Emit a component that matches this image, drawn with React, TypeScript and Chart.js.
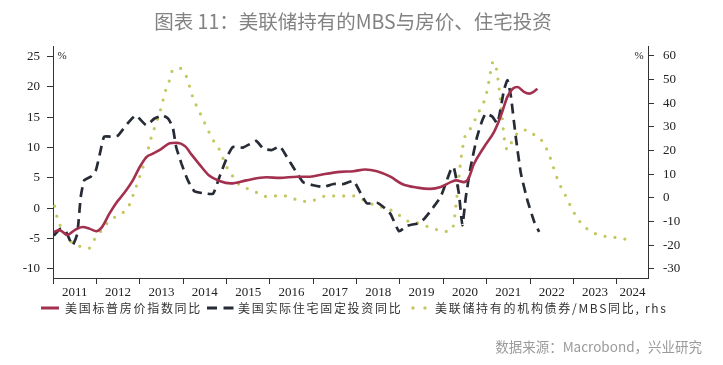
import React, { useEffect, useRef } from 'react';
import { Chart, registerables } from 'chart.js';

Chart.register(...registerables);

// ---------- data ----------
const titleText = '图表 11：美联储持有的MBS与房价、住宅投资';
const sourceText = '数据来源：Macrobond，兴业研究';
const legendLabels = ['美国标普房价指数同比', '美国实际住宅固定投资同比', '美联储持有的机构债券/MBS同比, rhs'];

const years = [2011, 2012, 2013, 2014, 2015, 2016, 2017, 2018, 2019, 2020, 2021, 2022, 2023, 2024];
const xMin = 2011;
const xMax = 2024.72;

const leftTicks = [-10, -5, 0, 5, 10, 15, 20, 25];
const rightTicks = [-30, -20, -10, 0, 10, 20, 30, 40, 50, 60];

// S&P home price index YoY (%), left axis
const hpiX = [2011.02, 2011.15, 2011.33, 2011.5, 2011.68, 2011.85, 2012.0, 2012.12, 2012.3, 2012.45, 2012.64, 2012.84, 2013.0, 2013.15, 2013.3, 2013.5, 2013.69, 2013.84, 2014.05, 2014.2, 2014.38, 2014.6, 2014.84, 2015.1, 2015.46, 2015.92, 2016.23, 2016.62, 2016.93, 2017.23, 2017.62, 2017.93, 2018.2, 2018.47, 2018.78, 2019.05, 2019.4, 2019.7, 2019.94, 2020.17, 2020.3, 2020.47, 2020.58, 2020.7, 2020.94, 2021.17, 2021.32, 2021.48, 2021.6, 2021.71, 2021.86, 2021.98, 2022.08, 2022.17];
const hpiY = [-3.9, -3.6, -4.4, -3.6, -3.1, -3.4, -3.8, -3.2, -0.9, 0.8, 2.5, 4.6, 6.8, 8.4, 9.0, 9.8, 10.7, 10.8, 10.2, 8.8, 7.2, 5.4, 4.5, 4.1, 4.6, 5.1, 5.0, 5.2, 5.2, 5.6, 6.0, 6.1, 6.4, 6.1, 5.2, 4.0, 3.4, 3.2, 3.5, 4.3, 4.6, 4.3, 4.9, 7.2, 10.1, 12.6, 15.1, 18.4, 19.7, 20.0, 19.2, 18.9, 19.2, 19.7];

// Real residential fixed investment YoY (%), left axis
const resX = [2011.02, 2011.17, 2011.3, 2011.45, 2011.56, 2011.64, 2011.72, 2011.87, 2011.99, 2012.1, 2012.18, 2012.37, 2012.5, 2012.72, 2012.91, 2013.15, 2013.34, 2013.53, 2013.65, 2013.76, 2013.84, 2013.96, 2014.11, 2014.26, 2014.45, 2014.69, 2014.84, 2015.03, 2015.15, 2015.38, 2015.57, 2015.69, 2015.85, 2016.05, 2016.23, 2016.39, 2016.58, 2016.77, 2017.0, 2017.23, 2017.47, 2017.7, 2017.93, 2018.12, 2018.24, 2018.47, 2018.62, 2018.78, 2018.98, 2019.16, 2019.4, 2019.55, 2019.7, 2019.94, 2020.17, 2020.24, 2020.36, 2020.44, 2020.52, 2020.63, 2020.78, 2020.9, 2020.98, 2021.13, 2021.25, 2021.4, 2021.48, 2021.56, 2021.67, 2021.79, 2021.94, 2022.1, 2022.21];
const resY = [-4.5, -3.4, -3.9, -6.1, -4.2, 1.9, 4.6, 5.2, 6.3, 9.6, 11.8, 11.8, 12.0, 14.0, 15.3, 13.7, 14.8, 15.3, 14.8, 13.4, 10.1, 7.4, 4.6, 2.8, 2.5, 2.4, 5.2, 8.7, 10.1, 10.0, 10.7, 11.1, 9.8, 9.6, 10.2, 8.5, 6.3, 4.3, 3.8, 3.5, 4.0, 4.0, 4.5, 2.1, 0.8, 0.9, 0.2, -0.9, -3.8, -2.9, -2.5, -1.8, -0.5, 1.9, 6.3, 6.8, 2.4, -2.8, 1.9, 6.8, 11.8, 14.5, 15.6, 15.1, 14.0, 19.5, 21.1, 18.4, 11.8, 5.7, 1.3, -2.3, -3.9];

// Fed holdings of agency debt / MBS YoY (%), right axis
const mbsX = [2011.04, 2011.1, 2011.22, 2011.33, 2011.49, 2011.65, 2011.83, 2011.95, 2012.1, 2012.25, 2012.45, 2012.6, 2012.76, 2012.85, 2013.0, 2013.15, 2013.26, 2013.38, 2013.49, 2013.6, 2013.69, 2013.76, 2013.92, 2014.07, 2014.15, 2014.22, 2014.3, 2014.41, 2014.5, 2014.61, 2014.69, 2014.84, 2015.0, 2015.15, 2015.3, 2015.46, 2015.69, 2015.88, 2016.1, 2016.35, 2016.58, 2016.77, 2017.0, 2017.23, 2017.47, 2017.7, 2017.93, 2018.12, 2018.31, 2018.54, 2018.78, 2018.97, 2019.2, 2019.43, 2019.63, 2019.86, 2020.09, 2020.24, 2020.28, 2020.33, 2020.38, 2020.42, 2020.51, 2020.63, 2020.75, 2020.86, 2020.98, 2021.05, 2021.15, 2021.23, 2021.29, 2021.35, 2021.4, 2021.48, 2021.6, 2021.75, 2021.94, 2022.1, 2022.29, 2022.44, 2022.52, 2022.67, 2022.79, 2022.98, 2023.09, 2023.25, 2023.44, 2023.68, 2023.91, 2024.14, 2024.37];
const mbsY = [-3.5, -8.6, -13.5, -16.3, -19.9, -20.6, -21.3, -17.7, -14.2, -10.7, -7.9, -6.5, -3.0, 1.3, 9.0, 17.4, 25.2, 31.6, 37.9, 45.6, 49.9, 54.1, 54.8, 51.5, 47.0, 42.8, 39.3, 35.1, 31.6, 27.3, 24.5, 20.3, 13.2, 9.0, 5.5, 4.1, 2.3, 0.6, 0.8, 0.8, -0.6, -1.5, -1.1, 0.6, 0.8, 0.8, 0.8, -0.6, -2.3, -3.7, -5.1, -7.2, -10.0, -10.7, -12.1, -13.5, -14.2, -11.4, -5.0, 3.0, 12.0, 18.2, 26.6, 29.4, 33.7, 37.9, 42.8, 49.1, 57.6, 54.1, 45.6, 35.8, 25.9, 20.3, 24.5, 28.0, 28.7, 26.6, 23.8, 18.2, 13.9, 6.2, 2.0, -5.1, -8.6, -12.1, -14.6, -16.1, -16.6, -17.3, -18.0];

// ---------- styles ----------
const RED = '#a3304f';
const DARK = '#262b36';
const DOT = '#c4c65f';
const AXIS = '#333333';
const SERIF = '"Liberation Serif", "Times New Roman", serif';
const CJK = '"Noto Sans CJK SC", "Noto Sans", sans-serif';

const toPts = (xs: number[], ys: number[]) => xs.map((x, i) => ({ x, y: ys[i] }));

const decorPlugin = {
  id: 'decor',
  afterDraw(chart: any) {
    const ctx = chart.ctx as CanvasRenderingContext2D;
    const ca = chart.chartArea;
    ctx.save();
    // title
    ctx.fillStyle = '#828282';
    ctx.font = `19.5px ${CJK}`;
    ctx.textAlign = 'center';
    ctx.textBaseline = 'middle';
    ctx.fillText(titleText, 353, 22);

    // % unit labels
    ctx.fillStyle = '#222';
    ctx.font = `11px ${SERIF}`;
    ctx.textAlign = 'center';
    ctx.fillText('%', ca.left + 9, 56);
    ctx.fillText('%', ca.right - 9, 56);

    // legend
    const ly = 308;
    ctx.font = `12px ${CJK}`;
    (ctx as any).letterSpacing = '1.7px';
    ctx.textAlign = 'left';
    ctx.fillStyle = '#333';
    // item 1: solid red
    ctx.strokeStyle = RED;
    ctx.lineWidth = 3;
    ctx.beginPath();
    ctx.moveTo(41, ly);
    ctx.lineTo(59, ly);
    ctx.stroke();
    ctx.fillText(legendLabels[0], 65, ly);
    // item 2: dashed dark
    ctx.strokeStyle = DARK;
    ctx.lineWidth = 3;
    ctx.setLineDash([10, 6.5]);
    ctx.beginPath();
    ctx.moveTo(207, ly);
    ctx.lineTo(234, ly);
    ctx.stroke();
    ctx.setLineDash([]);
    ctx.fillText(legendLabels[1], 238, ly);
    // item 3: dotted
    ctx.fillStyle = DOT;
    [413, 425].forEach((x) => {
      ctx.beginPath();
      ctx.arc(x, ly, 1.7, 0, Math.PI * 2);
      ctx.fill();
    });
    ctx.fillStyle = '#333';
    ctx.fillText(legendLabels[2], 435, ly);
    (ctx as any).letterSpacing = '0px';

    // source
    ctx.fillStyle = '#9a9a9a';
    ctx.font = `13.5px ${CJK}`;
    ctx.textAlign = 'right';
    ctx.fillText(sourceText, 702, 347);
    ctx.restore();
  },
};

export default function App() {
  const ref = useRef<HTMLCanvasElement | null>(null);

  useEffect(() => {
    if (!ref.current) return;
    const chart = new Chart(ref.current, {
      type: 'line',
      data: {
        datasets: [
          {
            label: legendLabels[0],
            data: toPts(hpiX, hpiY),
            yAxisID: 'y',
            xAxisID: 'x',
            borderColor: RED,
            borderWidth: 2.6,
            pointRadius: 0,
            cubicInterpolationMode: 'monotone',
            fill: false,
          },
          {
            label: legendLabels[1],
            data: toPts(resX, resY),
            yAxisID: 'y',
            xAxisID: 'x',
            borderColor: DARK,
            borderWidth: 2.7,
            borderDash: [10, 6],
            pointRadius: 0,
            tension: 0.15,
            fill: false,
          },
          {
            label: legendLabels[2],
            data: toPts(mbsX, mbsY),
            yAxisID: 'y2',
            xAxisID: 'x',
            borderColor: DOT,
            borderWidth: 3.2,
            borderDash: [0, 10],
            borderCapStyle: 'round',
            pointRadius: 0,
            cubicInterpolationMode: 'monotone',
            fill: false,
          },
        ],
      },
      options: {
        responsive: false,
        animation: false,
        layout: { padding: { top: 46, left: 0, right: 0, bottom: 0 } },
        plugins: { legend: { display: false }, tooltip: { enabled: false }, title: { display: false } },
        scales: {
          x: {
            type: 'linear',
            position: 'bottom',
            weight: 0,
            min: xMin,
            max: xMax,
            afterBuildTicks: (s: any) => {
              s.ticks = years.map((v) => ({ value: v }));
            },
            afterFit: (s: any) => {
              s.height = 6;
            },
            ticks: { display: false },
            grid: { drawOnChartArea: false, drawTicks: true, tickLength: 6, color: AXIS, lineWidth: 1 },
            border: { display: true, color: AXIS, width: 1 },
          },
          x2: {
            type: 'linear',
            position: 'bottom',
            weight: 1,
            min: xMin,
            max: xMax,
            afterBuildTicks: (s: any) => {
              s.ticks = years.map((v) => ({ value: Math.min(v + 0.5, (v + xMax) / 2) }));
            },
            afterFit: (s: any) => {
              s.height = 81;
            },
            ticks: {
              autoSkip: false,
              maxRotation: 0,
              padding: 1,
              color: '#222',
              font: { family: SERIF, size: 13 },
              callback: (v: any) => String(Math.floor(Number(v))),
            },
            grid: { display: false, drawTicks: false },
            border: { display: false },
          },
          y: {
            type: 'linear',
            position: 'left',
            min: -11.5,
            max: 26.75,
            afterBuildTicks: (s: any) => {
              s.ticks = leftTicks.map((v) => ({ value: v }));
            },
            afterFit: (s: any) => {
              s.width = 53;
            },
            ticks: { color: '#222', font: { family: SERIF, size: 13 }, padding: 7 },
            grid: { drawOnChartArea: false, drawTicks: true, tickLength: 6, color: AXIS },
            border: { display: true, color: AXIS, width: 1 },
          },
          y2: {
            type: 'linear',
            position: 'right',
            min: -33.9,
            max: 64.2,
            afterBuildTicks: (s: any) => {
              s.ticks = rightTicks.map((v) => ({ value: v }));
            },
            afterFit: (s: any) => {
              s.width = 75;
            },
            ticks: { color: '#222', font: { family: SERIF, size: 13 }, padding: 9, crossAlign: 'near' },
            grid: { drawOnChartArea: false, drawTicks: true, tickLength: 6, color: AXIS },
            border: { display: true, color: AXIS, width: 1 },
          },
        },
      } as any,
      plugins: [decorPlugin],
    });
    return () => chart.destroy();
  }, []);

  return (
    <div style={{ position: 'fixed', left: 0, top: 0, width: 723, height: 365, background: '#fff' }}>
      <canvas ref={ref} width={723} height={365} style={{ display: 'block' }} />
    </div>
  );
}
